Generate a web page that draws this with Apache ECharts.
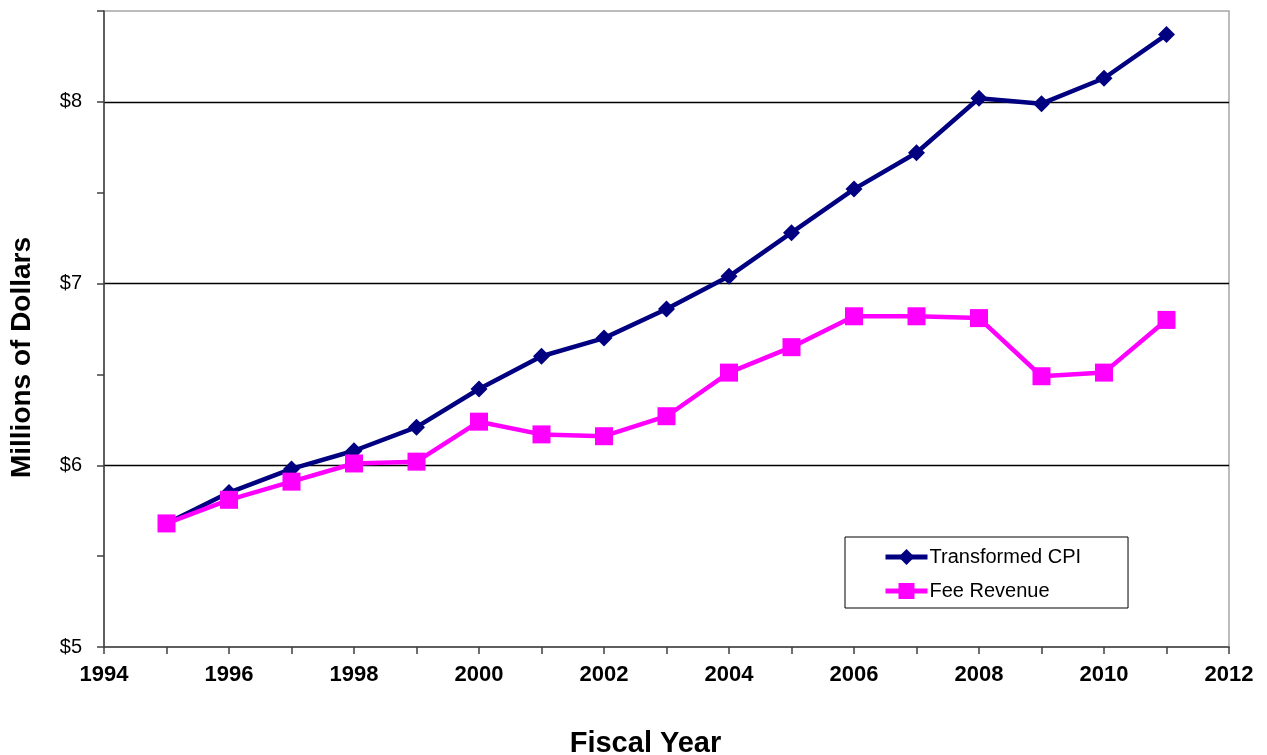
<!DOCTYPE html>
<html>
<head>
<meta charset="utf-8">
<script src="https://cdn.jsdelivr.net/npm/echarts@6/dist/echarts.min.js"></script>
<style>
  html, body { margin: 0; padding: 0; background: #fff; }
  #chart { width: 1267px; height: 755px; }
</style>
</head>
<body>
<div id="chart"></div>
<script>
// Fiscal years and the two series, in millions of dollars
const years = [1995, 1996, 1997, 1998, 1999, 2000, 2001, 2002, 2003, 2004, 2005, 2006, 2007, 2008, 2009, 2010, 2011];
const transformedCPI = [5.68, 5.85, 5.98, 6.08, 6.21, 6.42, 6.60, 6.70, 6.86, 7.04, 7.28, 7.52, 7.72, 8.02, 7.99, 8.13, 8.37];
const feeRevenue = [5.68, 5.81, 5.91, 6.01, 6.02, 6.24, 6.17, 6.16, 6.27, 6.51, 6.65, 6.82, 6.82, 6.81, 6.49, 6.51, 6.80];
const seriesNames = ['Transformed CPI', 'Fee Revenue'];

const FONT = 'Liberation Sans, Arial, sans-serif';
const pair = (vals) => years.map((y, i) => [y, vals[i]]);

const chart = echarts.init(document.getElementById('chart'));
chart.setOption({
  animation: false,
  backgroundColor: '#fff',
  grid: {
    left: 104, right: 38, top: 11, bottom: 108,
    outerBoundsMode: 'none',
    containLabel: false,
    show: true, borderColor: '#a6a6a6', borderWidth: 1.5
  },
  legend: {
    orient: 'vertical',
    left: 845, top: 537,
    padding: [10, 47, 7, 38],
    itemGap: 14,
    itemWidth: 42, itemHeight: 20,
    borderColor: '#000', borderWidth: 1,
    lineStyle: { width: 5 },
    textStyle: { fontFamily: FONT, fontSize: 20, color: '#000', padding: [0, 0, 0, -3] },
    data: seriesNames
  },
  xAxis: {
    type: 'value',
    min: 1994, max: 2012, interval: 1,
    name: 'Fiscal Year',
    nameLocation: 'middle',
    nameGap: 82,
    nameTextStyle: { fontFamily: FONT, fontSize: 29, fontWeight: 'bold', color: '#000', padding: [0, 42, 0, 0] },
    axisLine: { lineStyle: { color: '#404040', width: 1.5 } },
    axisTick: { inside: false, length: 7, lineStyle: { color: '#404040', width: 1.5 } },
    axisLabel: {
      margin: 17,
      fontFamily: FONT, fontSize: 22, fontWeight: 'bold', color: '#000',
      formatter: (v) => (v % 2 === 0 ? String(v) : '')
    },
    splitLine: { show: false }
  },
  yAxis: {
    type: 'value',
    min: 5, max: 8.5, interval: 0.5,
    name: 'Millions of Dollars',
    nameLocation: 'middle',
    nameGap: 68,
    nameTextStyle: { fontFamily: FONT, fontSize: 28, fontWeight: 'bold', color: '#000', padding: [0, 57, 0, 0] },
    axisLine: { show: true, lineStyle: { color: '#404040', width: 1.5 } },
    axisTick: { show: true, inside: false, length: 7, lineStyle: { color: '#404040', width: 1.5 } },
    axisLabel: {
      margin: 22,
      fontFamily: FONT, fontSize: 20, color: '#000',
      formatter: (v) => (Number.isInteger(v) ? '$' + v : '')
    },
    splitLine: {
      show: true,
      showMinLine: false,
      showMaxLine: false,
      lineStyle: { color: ['rgba(0,0,0,0)', '#000'], width: 1.3 }
    }
  },
  series: [
    {
      name: seriesNames[0],
      type: 'line',
      data: pair(transformedCPI),
      symbol: 'diamond',
      symbolSize: 17,
      lineStyle: { color: '#000080', width: 4.5 },
      itemStyle: { color: '#000080' },
      z: 2
    },
    {
      name: seriesNames[1],
      type: 'line',
      data: pair(feeRevenue),
      symbol: 'rect',
      symbolSize: 18,
      lineStyle: { color: '#ff00ff', width: 4.5 },
      itemStyle: { color: '#ff00ff' },
      z: 3
    }
  ]
});
</script>
</body>
</html>
